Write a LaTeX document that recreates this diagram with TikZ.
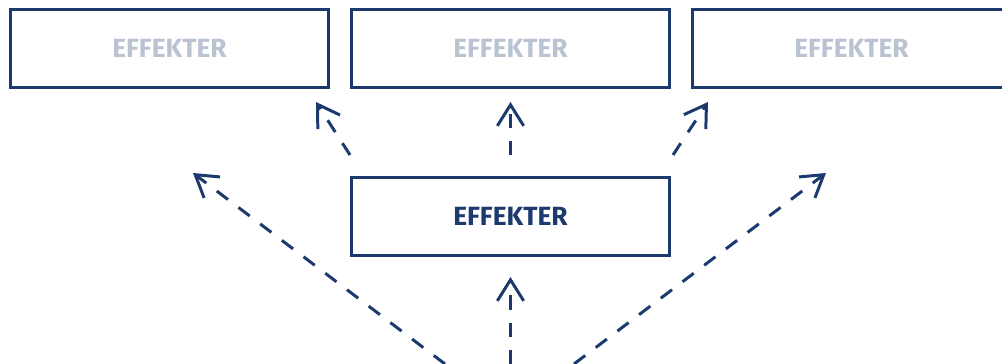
\documentclass[tikz,border=0pt]{standalone}
\usepackage{fontspec}
\setsansfont{Fira Sans}
\usetikzlibrary{arrows.meta}
\definecolor{navy}{HTML}{1C3A6E}
\definecolor{fade}{HTML}{B9C3D2}
\tikzset{
  effbox/.style={draw=navy, line width=1.7pt, minimum width=6.36cm, minimum height=1.56cm,
    inner sep=0pt, text=navy, font=\sffamily\bfseries\fontsize{15}{17}\selectfont},
  faded/.style={effbox, text=fade},
  effarrow/.style={navy, line width=1.7pt, dash pattern=on 8pt off 7.5pt,
    -{Straight Barb[length=12pt,width=15pt]}}
}
\begin{document}
\begin{tikzpicture}[x=0.02cm,y=-0.02cm]
  \useasboundingbox (0,0) rectangle (1002,364);
  \clip (0,0) rectangle (1002,364);
  % boxes
  \node[faded] (left)  at (169.5,48.5) {EFFEKTER};
  \node[faded] (top)   at (510.5,48.5) {EFFEKTER};
  \node[faded] (right) at (851.5,48.5) {EFFEKTER};
  \node[effbox] (mid)  at (510.5,216.5) {EFFEKTER};
  % free ends
  \coordinate (srcl) at (445,364);
  \coordinate (srcm) at (510.5,364);
  \coordinate (srcr) at (574,364);
  \coordinate (tipl) at (193,173);
  \coordinate (tipr) at (826,173);
  \coordinate (midl) at (350,155);
  \coordinate (midm) at (510.5,155);
  \coordinate (midr) at (673,155);
  \coordinate (upl) at (316,102);
  \coordinate (upm) at (510.5,102);
  \coordinate (upr) at (708,102);
  % arrows
  \draw[effarrow] (srcl) -- (tipl);
  \draw[effarrow] (srcr) -- (tipr);
  \draw[effarrow, shorten >=0.4cm] (srcm) -- (mid.south);
  \draw[effarrow] (midl) -- (upl);
  \draw[effarrow] (midm) -- (upm);
  \draw[effarrow] (midr) -- (upr);
\end{tikzpicture}
\end{document}
